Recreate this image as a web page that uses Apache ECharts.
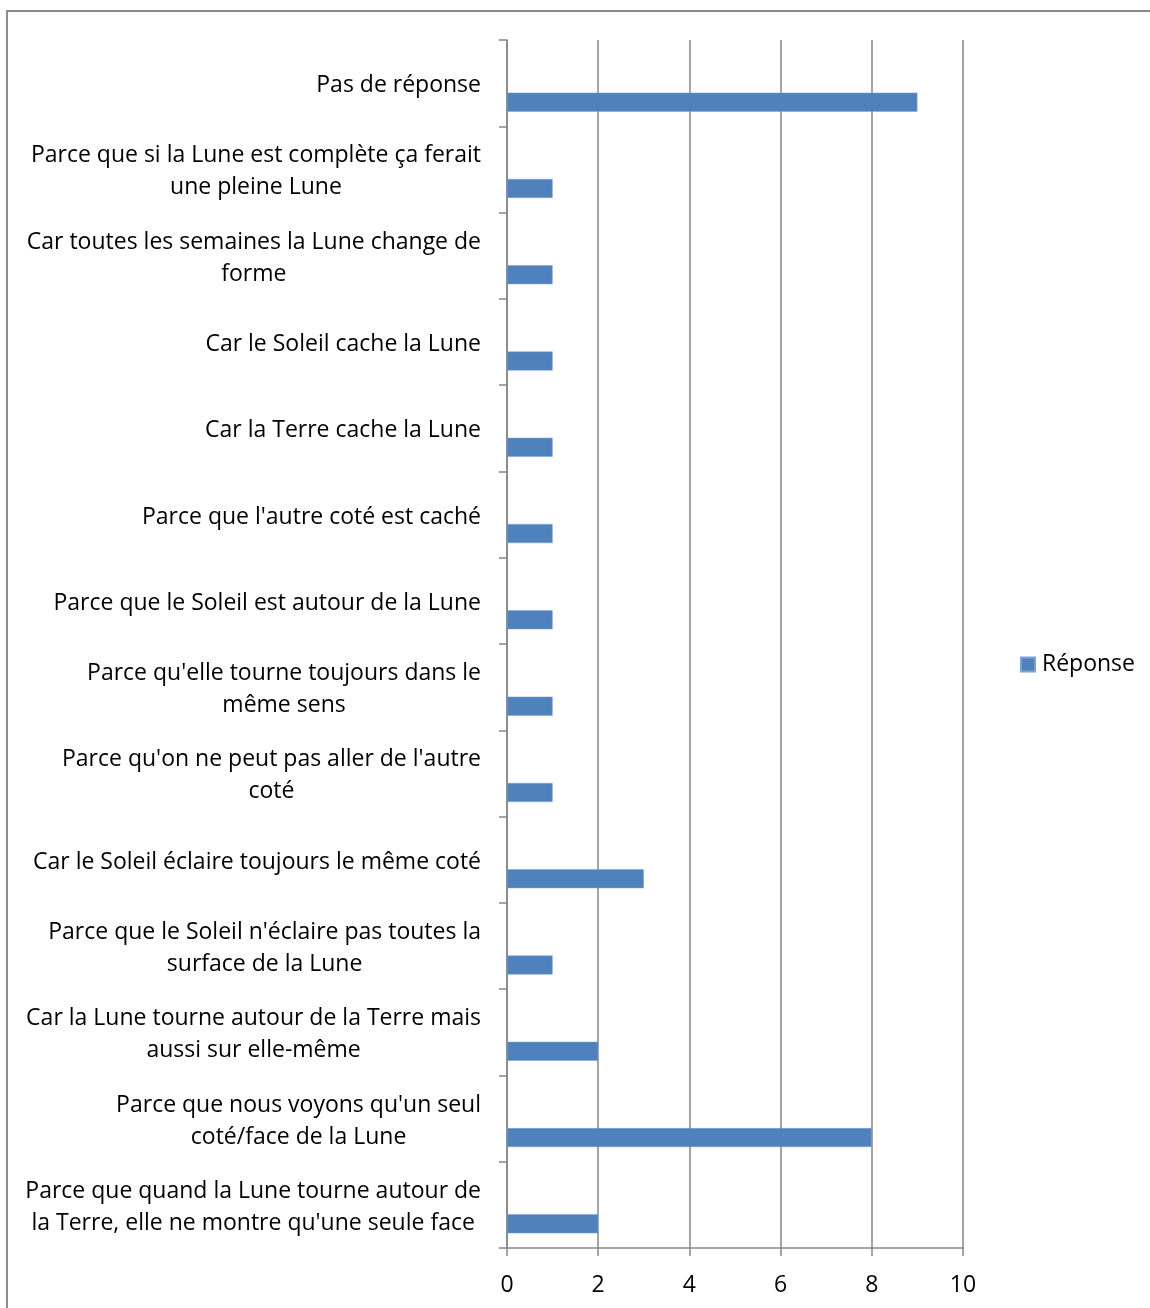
<!DOCTYPE html>
<html>
<head>
<meta charset="utf-8">
<script src="https://cdn.jsdelivr.net/npm/echarts@6/dist/echarts.min.js"></script>
<style>html,body{margin:0;padding:0;background:#fff}#c{width:1150px;height:1308px}</style>
</head>
<body>
<div id="c"></div>
<script>
const categories = [
  "Pas de réponse",
  "Parce que si la Lune est complète ça ferait\nune pleine Lune",
  "Car toutes les semaines la Lune change de\nforme",
  "Car le Soleil cache la Lune",
  "Car la Terre cache la Lune",
  "Parce que l'autre coté est caché",
  "Parce que le Soleil est autour de la Lune",
  "Parce qu'elle tourne toujours dans le\nmême sens",
  "Parce qu'on ne peut pas aller de l'autre\ncoté",
  "Car le Soleil éclaire toujours le même coté",
  "Parce que le Soleil n'éclaire pas toutes la\nsurface de la Lune",
  "Car la Lune tourne autour de la Terre mais\naussi sur elle-même",
  "Parce que nous voyons qu'un seul\ncoté/face de la Lune",
  "Parce que quand la Lune tourne autour de\nla Terre, elle ne montre qu'une seule face"
];
const seriesName = "Réponse";
const values = [9, 1, 1, 1, 1, 1, 1, 1, 1, 3, 1, 2, 8, 2];
const xMin = 0, xMax = 10, xInterval = 2;

const FONT = "Open Sans";
const FS = 23;
const AX = '#868686';

const chart = echarts.init(document.getElementById('c'), null, {renderer: 'canvas'});
chart.setOption({
  animation: false,
  backgroundColor: '#fff',
  graphic: [{
    type: 'rect', silent: true, z: -1,
    shape: {x: 7, y: 11, width: 1300, height: 1500},
    style: {fill: 'none', stroke: '#8c8c8c', lineWidth: 2}
  }],
  legend: {
    data: [seriesName],
    left: 1020, top: 653, padding: 0,
    itemWidth: 14, itemHeight: 14, itemGap: 10,
    icon: 'rect',
    textStyle: {fontFamily: FONT, fontSize: FS, color: '#000', padding: [0,0,0,2]}
  },
  grid: {left: 507, right: 187, top: 40, bottom: 60, containLabel: false},
  xAxis: {
    type: 'value', min: xMin, max: xMax, interval: xInterval,
    axisLine: {show: true, lineStyle: {color: AX, width: 1.5}},
    axisTick: {show: true, length: 8, lineStyle: {color: AX, width: 1.5}},
    splitLine: {show: true, lineStyle: {color: AX, width: 1.5}},
    axisLabel: {fontFamily: FONT, fontSize: FS, color: '#000', margin: 26}
  },
  yAxis: {
    type: 'category', inverse: true, data: categories,
    axisLine: {show: true, lineStyle: {color: AX, width: 1.5}},
    axisTick: {show: true, length: 8, lineStyle: {color: AX, width: 1.5}},
    axisLabel: {
      margin: 26, color: '#000', fontFamily: FONT, fontSize: FS,
      formatter: function (v) {
        return v.split('\n').map(function (l) { return '{c|' + l + '}'; }).join('\n');
      },
      rich: {c: {align: 'center', fontFamily: FONT, fontSize: FS, lineHeight: 32, color: '#000', padding: [5, 0, 0, 0]}}
    }
  },
  series: [
    {name: '_spacer', type: 'bar', data: values.map(function(){return '-';}), barWidth: 19, barGap: '100%', silent: true},
    {name: seriesName, type: 'bar', data: values, barWidth: 19, barGap: '100%',
     itemStyle: {color: '#4F81BD', borderColor: '#7da3d4', borderWidth: 0.5}}
  ]
});
</script>
</body>
</html>
